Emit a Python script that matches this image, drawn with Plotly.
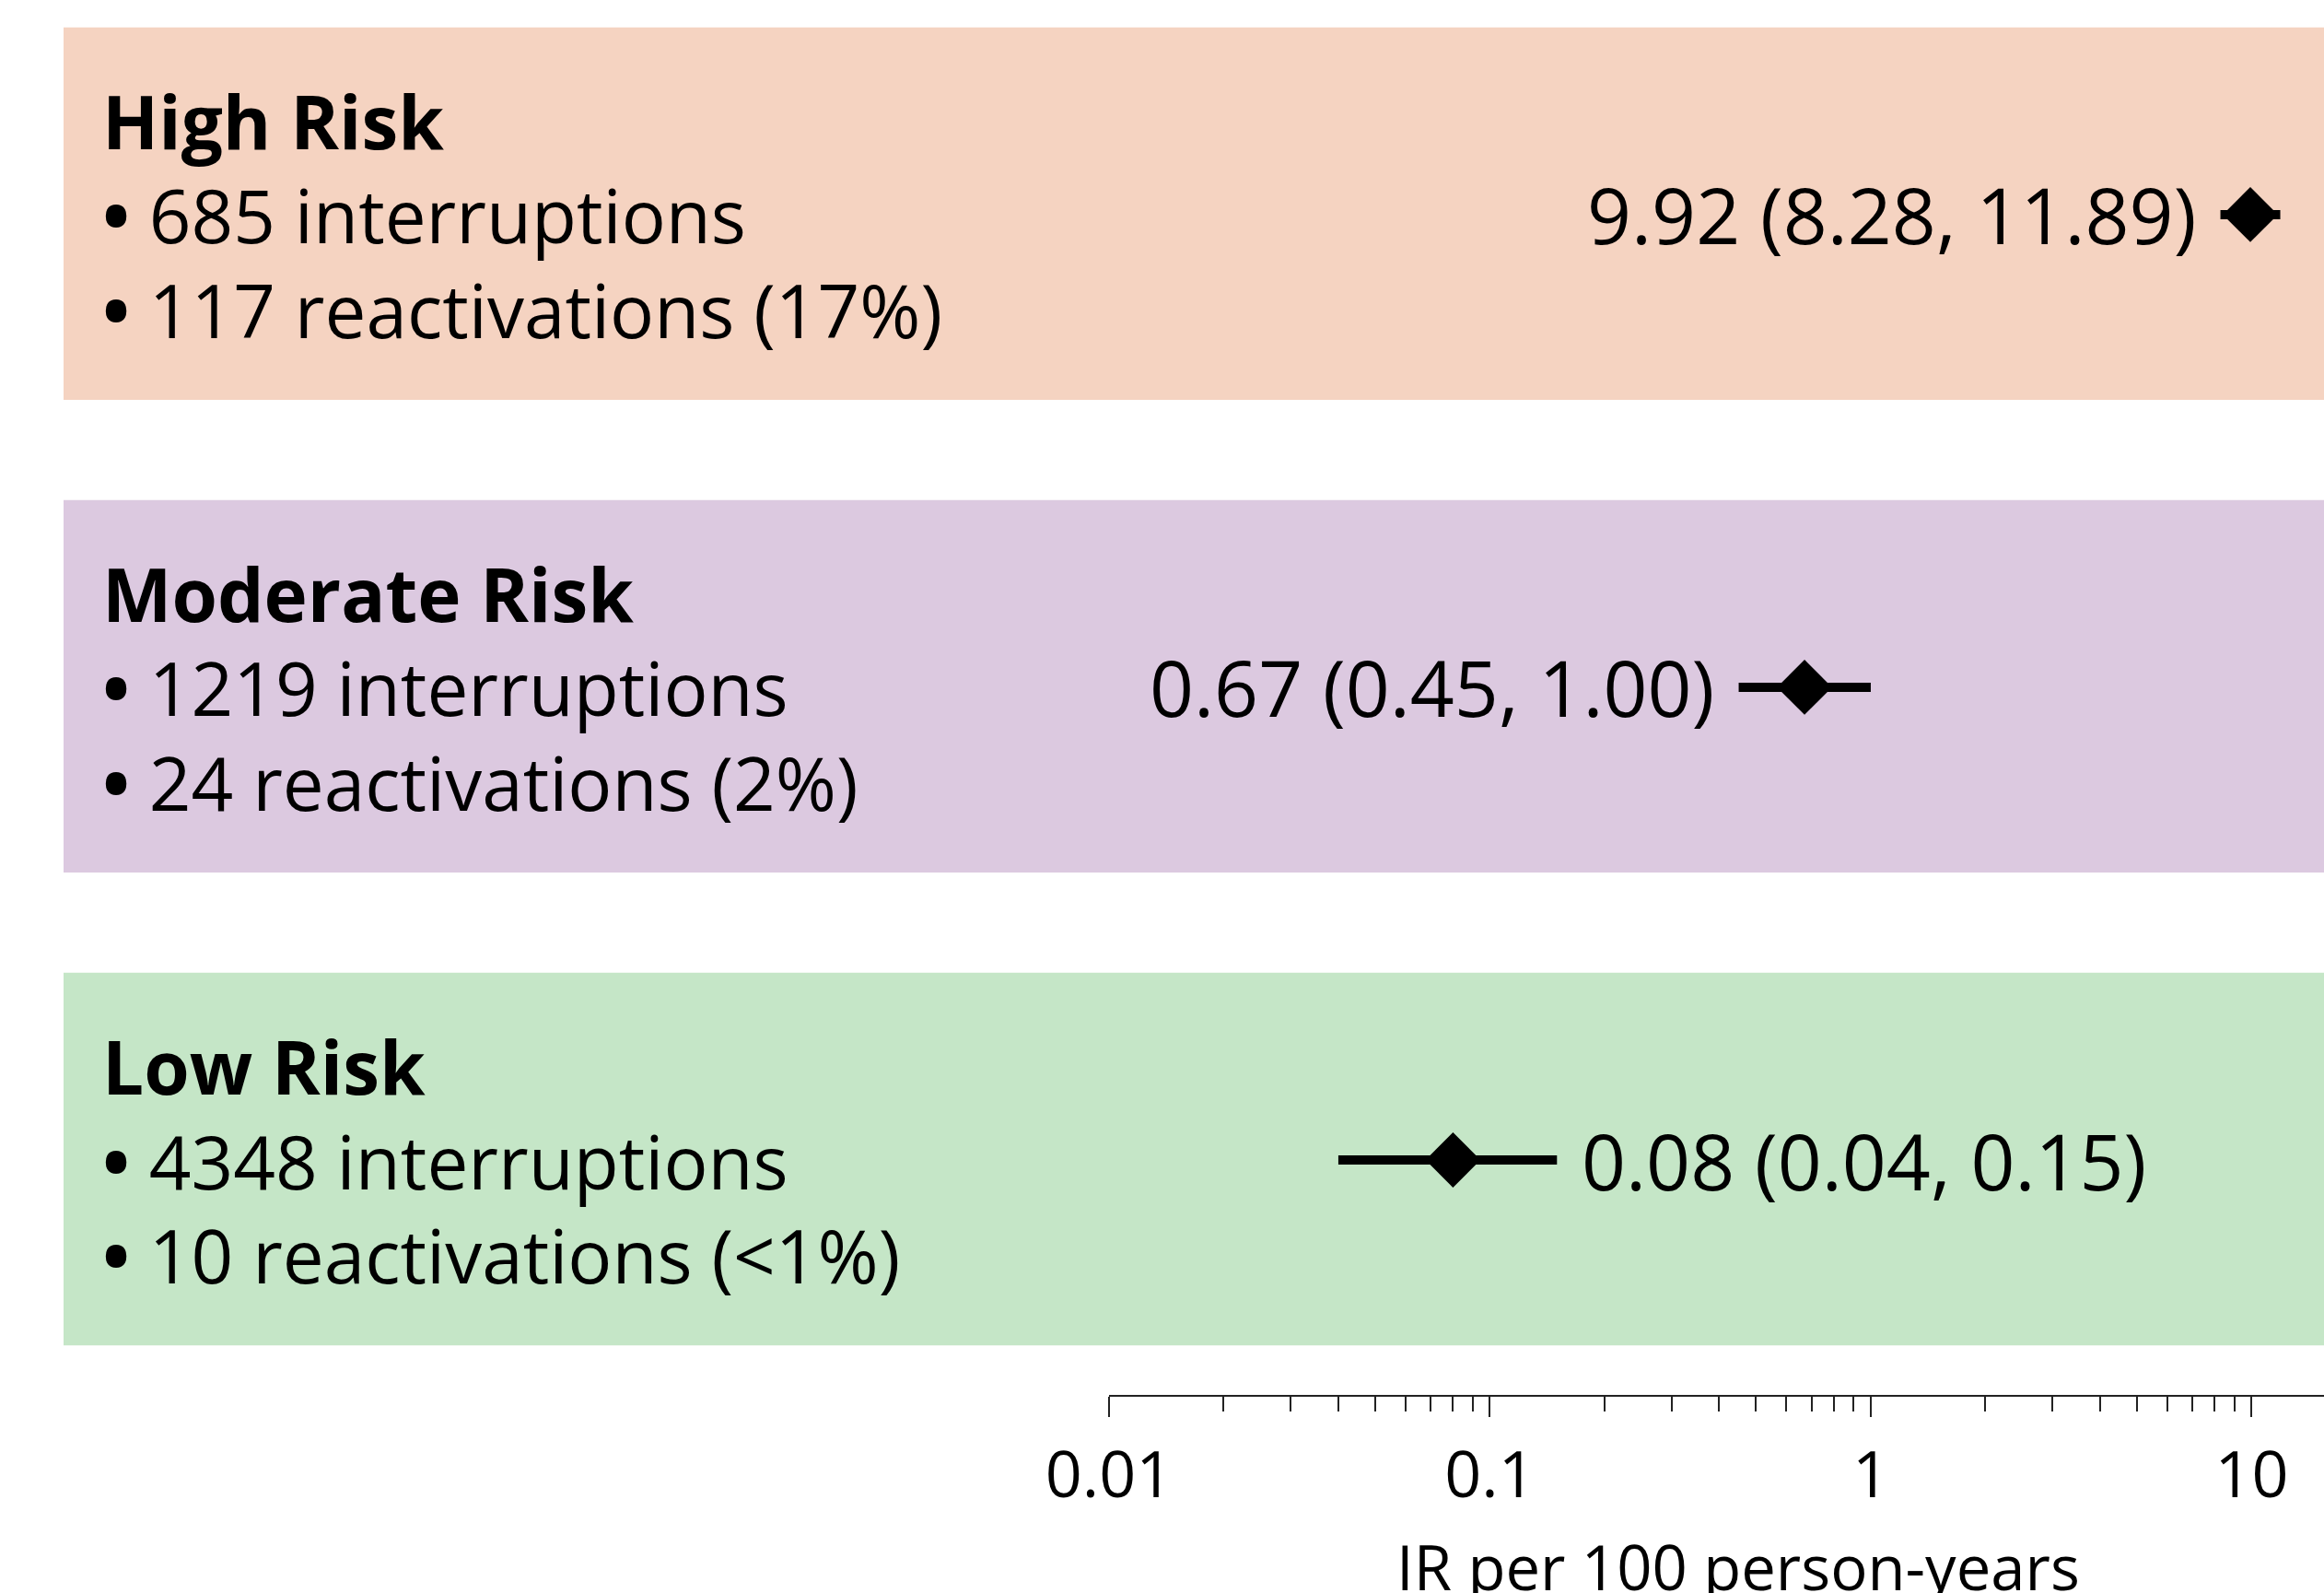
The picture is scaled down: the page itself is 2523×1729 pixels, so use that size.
import math
import plotly.graph_objects as go

# ---------------- data ----------------
categories = ["High Risk", "Moderate Risk", "Low Risk"]
interruptions = [685, 1219, 4348]
reactivations = [117, 24, 10]
react_pct = ["17%", "2%", "<1%"]
ir = [9.92, 0.67, 0.08]
ci_low = [8.28, 0.45, 0.04]
ci_high = [11.89, 1.00, 0.15]
label_side = ["left", "left", "right"]
panel_colors = ["#F5D3C1", "#DCC9E0", "#C5E6C7"]

tick_vals = [0.01, 0.1, 1, 10]
tick_text = ["0.01", "0.1", "1", "10"]
minor_vals = [m * d for d in (0.01, 0.1, 1) for m in range(2, 10)]
axis_title = "IR per 100 person-years"

# ---------------- layout constants ----------------
W, H = 2523, 1729
FONT = "Open Sans"
ypos = [len(categories) - 1 - i for i in range(len(categories))]  # 2,1,0
line_off = 0.199
panel_half = 0.392
BULLET = "<b>\u2022</b>"

fig = go.Figure()

fig.add_trace(go.Scatter(
    x=ir, y=ypos, mode="markers",
    marker=dict(symbol="diamond", size=46, color="black"),
    error_x=dict(type="data", symmetric=False,
                 array=[h - v for h, v in zip(ci_high, ir)],
                 arrayminus=[v - l for v, l in zip(ir, ci_low)],
                 color="black", thickness=10, width=0),
    showlegend=False, hoverinfo="skip",
))

shapes = []
annotations = []
for i, cat in enumerate(categories):
    y = ypos[i]
    shapes.append(dict(type="rect", xref="paper", yref="y", x0=69 / W, x1=1,
                       y0=y - panel_half, y1=y + panel_half + 0.004,
                       fillcolor=panel_colors[i], line=dict(width=0), layer="below"))
    lines = [
        (f"<b>{cat}</b>", y + line_off),
        (f"{BULLET} {interruptions[i]} interruptions", y),
        (f"{BULLET} {reactivations[i]} reactivations ({react_pct[i]})", y - line_off),
    ]
    for txt, yy in lines:
        annotations.append(dict(text=txt, xref="paper", yref="y", x=109 / W, y=yy,
                                xanchor="left", yanchor="middle", showarrow=False,
                                font=dict(family=FONT, size=80, color="black")))
    lab = f"{ir[i]:.2f} ({ci_low[i]:.2f}, {ci_high[i]:.2f})"
    if label_side[i] == "left":
        annotations.append(dict(text=lab, xref="x", yref="y", x=math.log10(ci_low[i]), y=y,
                                xanchor="right", yanchor="middle", xshift=-25, showarrow=False,
                                font=dict(family=FONT, size=84, color="black")))
    else:
        annotations.append(dict(text=lab, xref="x", yref="y", x=math.log10(ci_high[i]), y=y,
                                xanchor="left", yanchor="middle", xshift=25, showarrow=False,
                                font=dict(family=FONT, size=84, color="black")))

annotations.append(dict(text=axis_title, xref="paper", yref="paper", x=1887 / W, y=-0.1229,
                        xanchor="center", yanchor="middle", showarrow=False,
                        font=dict(family=FONT, size=67, color="black")))

fig.update_layout(
    width=W, height=H,
    margin=dict(l=0, r=0, t=0, b=215, pad=0, autoexpand=False),
    paper_bgcolor="white", plot_bgcolor="white",
    shapes=shapes, annotations=annotations,
    font=dict(family=FONT, color="black"),
    xaxis=dict(type="log", domain=[1204 / W, 1], range=[-2, 1.19],
               automargin=False,
               tickvals=tick_vals, ticktext=tick_text,
               ticks="outside", ticklen=22, tickwidth=2, tickcolor="#222",
               showline=True, linecolor="#222", linewidth=2,
               showgrid=False, zeroline=False,
               tickfont=dict(family=FONT, size=70, color="black"),
               ticklabelstandoff=3,
               minor=dict(tickvals=minor_vals, ticks="outside", ticklen=16,
                          tickwidth=2, tickcolor="#222", showgrid=False)),
    yaxis=dict(range=[-0.497, 2.454], visible=False, fixedrange=True, automargin=False),
)

fig.write_html("out.html", config={"displayModeBar": False},
               post_script="document.body.style.margin='0px';")
